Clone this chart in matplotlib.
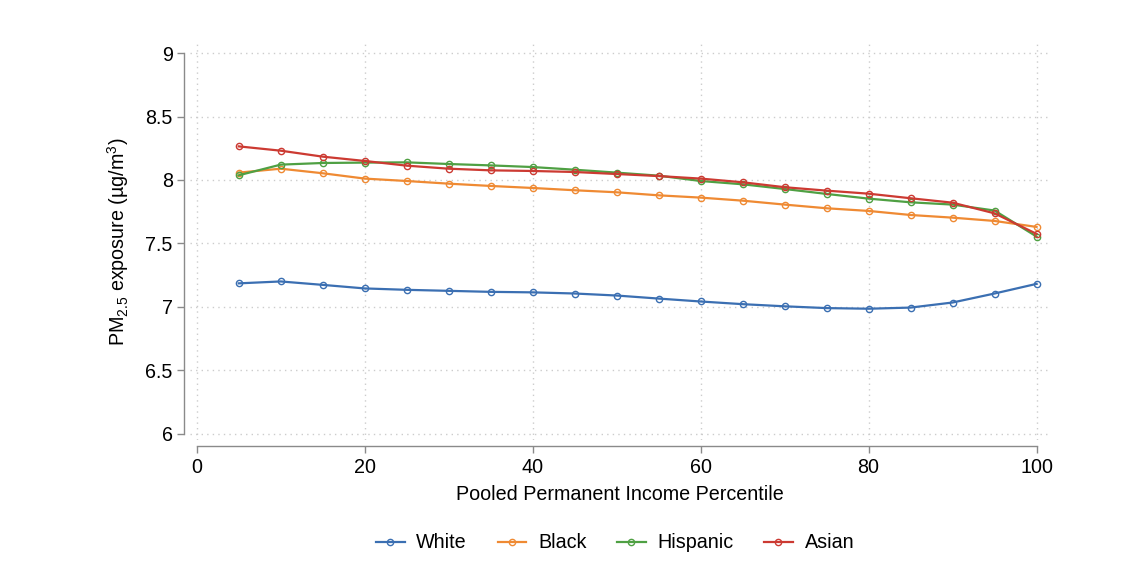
import matplotlib
matplotlib.use("Agg")
import matplotlib.pyplot as plt

plt.rcParams['font.family'] = ['Liberation Sans', 'DejaVu Sans']
plt.rcParams['mathtext.fontset'] = 'custom'
plt.rcParams['mathtext.rm'] = 'Liberation Sans'
plt.rcParams['mathtext.it'] = 'Liberation Sans:italic'

percentile = [5, 10, 15, 20, 25, 30, 35, 40, 45, 50, 55, 60, 65, 70, 75, 80, 85, 90, 95, 100]
white = [7.185, 7.200, 7.173, 7.145, 7.134, 7.126, 7.118, 7.114, 7.105, 7.089,
         7.065, 7.042, 7.021, 7.004, 6.990, 6.985, 6.994, 7.034, 7.105, 7.181]
black = [8.058, 8.089, 8.053, 8.011, 7.992, 7.971, 7.953, 7.937, 7.919, 7.903,
         7.879, 7.861, 7.837, 7.806, 7.777, 7.756, 7.724, 7.703, 7.677, 7.630]
hispanic = [8.037, 8.121, 8.134, 8.137, 8.139, 8.126, 8.115, 8.102, 8.081, 8.058,
            8.034, 7.992, 7.966, 7.929, 7.890, 7.853, 7.824, 7.806, 7.759, 7.554]
asian = [8.265, 8.231, 8.184, 8.150, 8.113, 8.089, 8.076, 8.071, 8.063, 8.047,
         8.031, 8.011, 7.982, 7.943, 7.916, 7.892, 7.856, 7.821, 7.737, 7.575]

series = [("White", white, "#3b6fb2"), ("Black", black, "#ef8a33"),
          ("Hispanic", hispanic, "#4fa043"), ("Asian", asian, "#cc3a32")]

xticks = [0, 20, 40, 60, 80, 100]
yticks = [6, 6.5, 7, 7.5, 8, 8.5, 9]
yticklabels = ["6", "6.5", "7", "7.5", "8", "8.5", "9"]

FS = 14.2

fig = plt.figure(figsize=(11.34, 5.84), dpi=100)
ax = fig.add_axes([190/1134, 1 - 440/584, (1050-190)/1134, (440-43)/584])

for name, vals, col in series:
    ax.plot(percentile, vals, color=col, lw=1.6, marker='o', markersize=4.5,
            markerfacecolor='none', markeredgecolor=col, markeredgewidth=1.0, label=name)

ax.set_xlim(-0.8, 101.6)
ax.set_ylim(5.95, 9.08)
ax.set_xticks(xticks)
ax.set_yticks(yticks)
ax.set_yticklabels(yticklabels)

ax.grid(True, linestyle=(0, (1, 3)), color='#cccccc', lw=1.0)
ax.set_axisbelow(True)

for s in ['top', 'right']:
    ax.spines[s].set_visible(False)
ax.spines['left'].set_position(('outward', 4))
ax.spines['bottom'].set_position(('outward', 4.5))
ax.spines['left'].set_bounds(6, 9)
ax.spines['bottom'].set_bounds(0, 100)
for s in ['left', 'bottom']:
    ax.spines[s].set_color('#8a8a8a')
    ax.spines[s].set_linewidth(1.0)
ax.tick_params(axis='both', colors='#8a8a8a', length=5, width=1.0, labelsize=FS,
               labelcolor='black')

ax.set_xlabel("Pooled Permanent Income Percentile", fontsize=FS, labelpad=6)
ax.set_ylabel(r"PM$_{2.5}$ exposure (µg/m$^3$)", fontsize=FS, labelpad=10)

fig.legend(loc='center', bbox_to_anchor=(615/1134, 1 - 543/584), ncol=4, frameon=False,
           fontsize=FS, handlelength=1.45, columnspacing=1.55, handletextpad=0.6)

fig.savefig("out.png", dpi=100)
